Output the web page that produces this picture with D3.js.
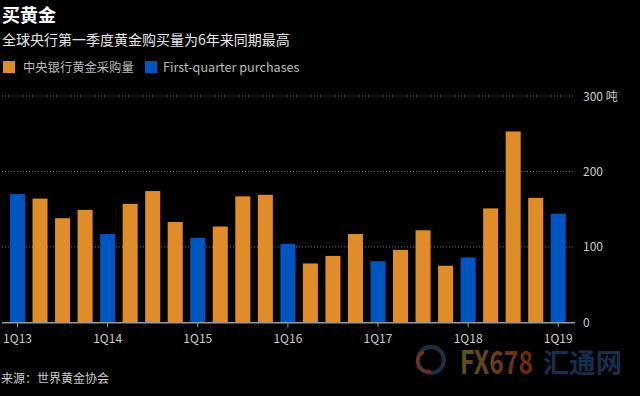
<!DOCTYPE html>
<html><head><meta charset="utf-8">
<script src="https://cdn.jsdelivr.net/npm/d3@7/dist/d3.min.js"></script>
<style>
html,body{margin:0;padding:0;background:#000;}
svg{display:block;}
text{font-family:"Noto Sans CJK SC","Noto Sans",sans-serif;}
</style></head><body>
<script>
const quarters = ["1Q13","2Q13","3Q13","4Q13","1Q14","2Q14","3Q14","4Q14","1Q15","2Q15","3Q15","4Q15","1Q16","2Q16","3Q16","4Q16","1Q17","2Q17","3Q17","4Q17","1Q18","2Q18","3Q18","4Q18","1Q19"];
const purchases = [170,164,138,149,117,157,174,133,112,127,167,169,104,78,88,117,81,96,122,75,86,151,253,165,144];
const yTicks = [0,100,200,300];
const xTickLabels = ["1Q13","1Q14","1Q15","1Q16","1Q17","1Q18","1Q19"];
const legendLabels = ["中央银行黄金采购量","First-quarter purchases"];
const ORANGE = "#e08c28", BLUE = "#0055c0";

const W = 640, H = 396;
const svg = d3.select("body").append("svg").attr("width", W).attr("height", H);
svg.append("rect").attr("width", W).attr("height", H).attr("fill", "#000");

// Titles
svg.append("text").attr("x", 2).attr("y", 22).attr("fill", "#fff")
  .attr("font-size", 18).attr("font-weight", "bold").text("买黄金");
svg.append("text").attr("x", 2).attr("y", 45).attr("fill", "#e6e6e6")
  .attr("font-size", 14).text("全球央行第一季度黄金购买量为6年来同期最高");

// Legend
const lg = svg.append("g");
lg.append("rect").attr("x", 3).attr("y", 61).attr("width", 12).attr("height", 12).attr("fill", ORANGE);
lg.append("text").attr("x", 23).attr("y", 72).attr("fill", "#bbb").attr("font-size", 12.3).text(legendLabels[0]);
lg.append("rect").attr("x", 145).attr("y", 61).attr("width", 12).attr("height", 12).attr("fill", BLUE);
lg.append("text").attr("x", 163).attr("y", 72).attr("fill", "#bbb").attr("font-size", 12.6)
  .attr("font-family", "'Open Sans','Noto Sans',sans-serif").text(legendLabels[1]);

// Scales
const x = d3.scaleBand().domain(quarters).range([6.25, 569.5]).paddingInner(0.333).paddingOuter(0.1665);
const y = d3.scaleLinear().domain([0, 300]).range([322.3, 96]);

// Gridlines (dotted)
svg.append("g").selectAll("line").data(yTicks.filter(d => d > 0)).join("line")
  .attr("x1", 2).attr("x2", 575).attr("y1", d => y(d)).attr("y2", d => y(d))
  .attr("stroke", "#777").attr("stroke-width", 1).attr("stroke-dasharray", "1,2");

// Bars
svg.append("g").selectAll("rect").data(quarters).join("rect")
  .attr("x", d => x(d)).attr("width", x.bandwidth())
  .attr("y", (d, i) => y(purchases[i])).attr("height", (d, i) => y(0) - y(purchases[i]))
  .attr("fill", d => d.startsWith("1Q") ? BLUE : ORANGE);

// Y labels on right
svg.append("g").selectAll("text").data(yTicks).join("text")
  .attr("x", 583).attr("y", d => y(d) + 4.5).attr("fill", "#ccc").attr("font-size", 12)
  .text(d => d === 300 ? "300 吨" : d);

// X axis
const xAxis = d3.axisBottom(x).tickValues(xTickLabels).tickSize(5).tickSizeOuter(0).tickPadding(7);
const gx = svg.append("g").attr("transform", `translate(0,${y(0)})`).call(xAxis);
gx.select(".domain").remove();
gx.append("line").attr("x1", 2).attr("x2", 575).attr("y1", 0.5).attr("y2", 0.5).attr("stroke", "#999").attr("stroke-width", 1.5);
gx.selectAll(".tick line").attr("stroke", "#999");
gx.selectAll(".tick text").attr("fill", "#ccc").attr("font-size", 12)
  .attr("font-family", "'Liberation Serif','DejaVu Serif',serif");

// Source
svg.append("text").attr("x", 1).attr("y", 383).attr("fill", "#ccc").attr("font-size", 12).text("来源：世界黄金协会");

// Watermark
const wm = svg.append("g").attr("opacity", 0.9);
const defs = svg.append("defs");
const grad = defs.append("linearGradient").attr("id", "fxg").attr("x1", "0").attr("x2", "1");
grad.append("stop").attr("offset", "0").attr("stop-color", "#6b5a22");
grad.append("stop").attr("offset", "1").attr("stop-color", "#7a2e12");
wm.append("circle").attr("cx", 431).attr("cy", 360).attr("r", 13).attr("fill", "none").attr("stroke", "#1e3550").attr("stroke-width", 4);
wm.append("path").attr("d", "M424,352 A10,10 0 0,0 431,371").attr("fill", "none").attr("stroke", "#7a3a18").attr("stroke-width", 3);
wm.append("text").attr("x", 460).attr("y", 374).attr("font-size", 32).attr("font-weight", "bold")
  .attr("font-family", "'Liberation Sans Narrow','DejaVu Sans Condensed',sans-serif")
  .attr("textLength", 73).attr("lengthAdjust", "spacingAndGlyphs")
  .attr("fill", "url(#fxg)").text("FX678");
wm.append("text").attr("x", 543).attr("y", 373).attr("font-size", 27).attr("font-weight", "bold")
  .attr("textLength", 79).attr("lengthAdjust", "spacingAndGlyphs")
  .attr("fill", "#1a3556").text("汇通网");
</script>
</body></html>
